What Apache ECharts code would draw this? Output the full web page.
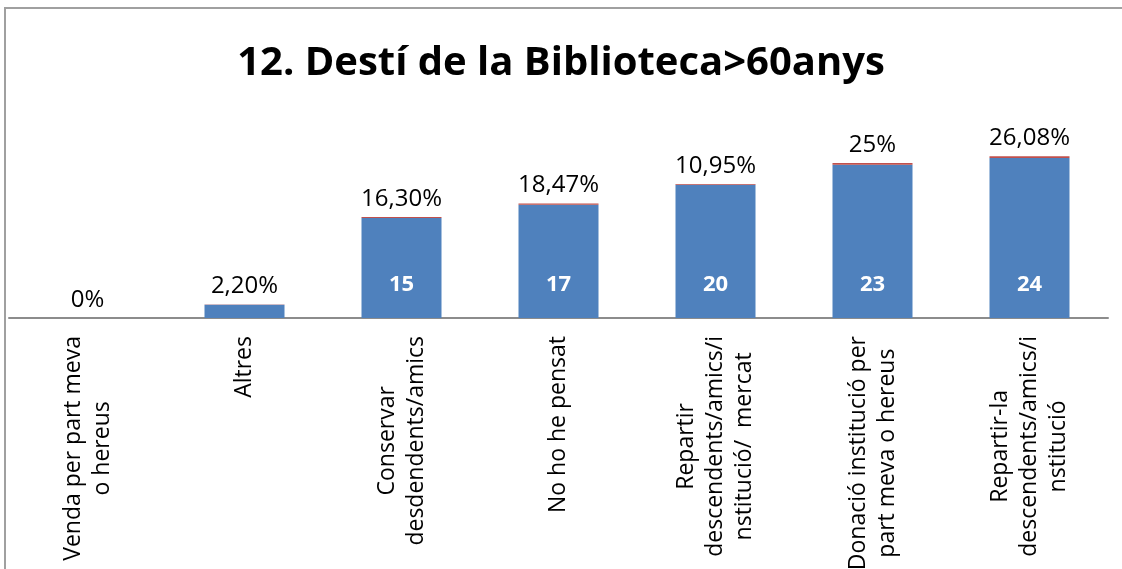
<!DOCTYPE html>
<html>
<head>
<meta charset="utf-8">
<script src="https://cdn.jsdelivr.net/npm/echarts@6/dist/echarts.min.js"></script>
<style>
  html, body { margin: 0; padding: 0; background: #fff; overflow: hidden; }
  #frame { position: absolute; left: 4px; top: 7px; width: 1200px; height: 700px;
           border-top: 2px solid #a0a0a0; border-left: 2px solid #a0a0a0; }
  #chart { position: absolute; left: 0; top: 0; width: 1122px; height: 569px; }
</style>
</head>
<body>
<div id="frame"></div>
<div id="chart"></div>
<script>
var categories = [
    'Venda per part meva\no hereus',
    'Altres',
    'Conservar\ndesdendents/amics',
    'No ho he pensat',
    'Repartir\ndescendents/amics/i\nnstitució/  mercat',
    'Donació institució per\npart meva o hereus',
    'Repartir-la\ndescendents/amics/i\nnstitució'
];
var counts = [0, 2, 15, 17, 20, 23, 24];
var percents = [0, 2.20, 16.30, 18.47, 10.95, 25, 26.08];

var percentShares = percents.map(function (p) { return p / 100; });

function fmtPct(p) {
    var s = (p % 1 === 0) ? String(p) : p.toFixed(2);
    return s.replace('.', ',') + '%';
}

var chart = echarts.init(document.getElementById('chart'));
var font = '"Open Sans", "DejaVu Sans", sans-serif';

chart.setOption({
    animation: false,
    title: {
        text: '12. Destí de la Biblioteca>60anys',
        left: 'center',
        top: 39,
        textStyle: { fontFamily: font, fontSize: 40, fontWeight: 'bold', color: '#000' }
    },
    grid: { left: 9, right: 14, top: 118, height: 200, containLabel: false, outerBoundsMode: 'none' },
    xAxis: {
        type: 'category',
        data: categories,
        axisLine: { lineStyle: { color: '#8c8c8c', width: 2 } },
        axisTick: { show: false },
        axisLabel: {
            rotate: 90,
            margin: 18,
            interval: 0,
            fontFamily: font,
            fontSize: 23,
            lineHeight: 29,
            color: '#000',
            formatter: function (v) {
                return v.split('\n').map(function (l) { return '{c|' + l + '}'; }).join('\n');
            },
            rich: { c: { align: 'center', fontFamily: font, fontSize: 23, lineHeight: 29, color: '#000' } }
        }
    },
    yAxis: { type: 'value', min: 0, max: 30, show: false, splitLine: { show: false } },
    series: [
        {
            type: 'bar',
            stack: 'a',
            data: counts,
            barWidth: 80,
            itemStyle: { color: '#4f81bd' },
            label: {
                show: true,
                position: 'insideBottom',
                distance: 22,
                color: '#fff',
                fontFamily: font,
                fontWeight: 'bold',
                fontSize: 22
            }
        },
        {
            type: 'bar',
            stack: 'a',
            data: percentShares,
            barWidth: 80,
            itemStyle: { color: '#c0504d' },
            label: {
                show: true,
                position: 'top',
                distance: 6,
                color: '#000',
                fontFamily: font,
                fontSize: 24,
                formatter: function (p) { return fmtPct(percents[p.dataIndex]); }
            }
        }
    ]
});
</script>
</body>
</html>
